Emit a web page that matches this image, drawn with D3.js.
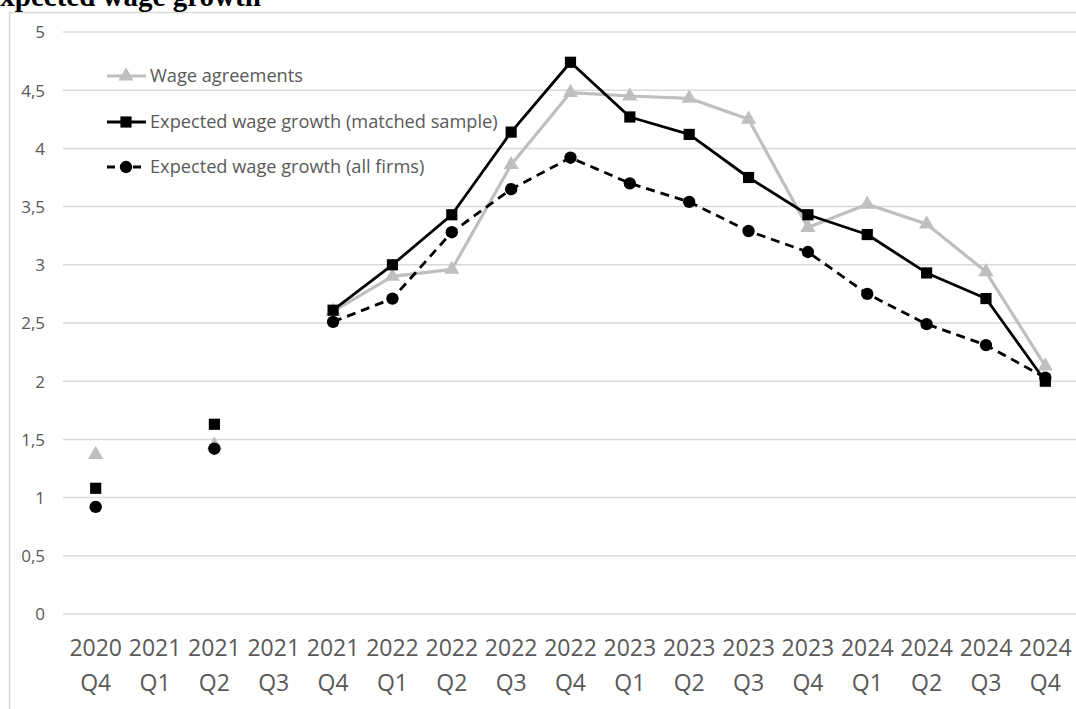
<!DOCTYPE html>
<html>
<head>
<meta charset="utf-8">
<script src="https://cdn.jsdelivr.net/npm/d3@7"></script>
<style>
  html, body { margin: 0; padding: 0; background: #fff; overflow: hidden; }
  svg { display: block; }
</style>
</head>
<body>
<svg id="chart" width="1076" height="709"></svg>
<script>
const years = ["2020","2021","2021","2021","2021","2022","2022","2022","2022","2023","2023","2023","2023","2024","2024","2024","2024"];
const quarters = ["Q4","Q1","Q2","Q3","Q4","Q1","Q2","Q3","Q4","Q1","Q2","Q3","Q4","Q1","Q2","Q3","Q4"];
const wageAgreements = [1.37, null, 1.45, null, 2.60, 2.90, 2.96, 3.86, 4.48, 4.45, 4.43, 4.25, 3.32, 3.52, 3.35, 2.94, 2.13];
const matchedSample  = [1.08, null, 1.63, null, 2.61, 3.00, 3.43, 4.14, 4.74, 4.27, 4.12, 3.75, 3.43, 3.26, 2.93, 2.71, 2.00];
const allFirms       = [0.92, null, 1.42, null, 2.51, 2.71, 3.28, 3.65, 3.92, 3.70, 3.54, 3.29, 3.11, 2.75, 2.49, 2.31, 2.03];
const yTicks = [0, 0.5, 1, 1.5, 2, 2.5, 3, 3.5, 4, 4.5, 5];
const seriesNames = ["Wage agreements", "Expected wage growth (matched sample)", "Expected wage growth (all firms)"];
const title = "Expected wage growth";

const svg = d3.select("#chart");
const FONT = "'Open Sans', sans-serif";
const TXT = "#595959";
const GRID = "#d9d9d9";
const GRAY = "#bfbfbf";

const idx = d3.range(years.length);
const x = d3.scaleBand().domain(idx).range([66, 1075]);
const cx = i => x(i) + x.bandwidth() / 2;
const y = d3.scaleLinear().domain([0, 5]).range([614, 32]);

// outer frame
svg.append("rect").attr("x", 9.5).attr("y", 12.5).attr("width", 1200).attr("height", 800)
  .attr("fill", "none").attr("stroke", GRID).attr("stroke-width", 1.5);

// title (cut off at the top-left edge, as in the reference)
svg.append("text").attr("x", -19).attr("y", 6)
  .attr("font-family", "'Liberation Serif', 'Times New Roman', serif")
  .attr("font-weight", "bold").attr("font-size", 29).attr("fill", "#000").text(title);

// y axis labels
const yAxis = d3.axisLeft(y).tickValues(yTicks).tickSize(0).tickPadding(0)
  .tickFormat(d => String(d).replace(".", ","));
const gy = svg.append("g").attr("transform", "translate(45,0)").call(yAxis);
gy.select(".domain").remove();
gy.selectAll("text").attr("font-family", FONT).attr("font-size", 17).attr("fill", TXT).attr("dy", "0.35em");

// gridlines
svg.append("g").selectAll("line").data(yTicks).join("line")
  .attr("x1", 63).attr("x2", 1076).attr("y1", d => y(d)).attr("y2", d => y(d))
  .attr("stroke", GRID).attr("stroke-width", 1.5);

// x axis labels
const xAxis = d3.axisBottom(x).tickSize(0).tickFormat(() => "");
const gx = svg.append("g").attr("transform", "translate(0,614)").call(xAxis);
gx.select(".domain").remove();
gx.selectAll(".tick").each(function(i) {
  const t = d3.select(this).append("text").attr("font-family", FONT).attr("font-size", 23)
    .attr("fill", TXT).attr("text-anchor", "middle");
  t.append("tspan").attr("x", 0).attr("y", 42).text(years[i]);
  t.append("tspan").attr("x", 0).attr("y", 77).text(quarters[i]);
});

const line = d3.line().defined(d => d.v !== null).x(d => cx(d.i)).y(d => y(d.v));
const toPts = arr => arr.map((v, i) => ({ i, v }));

const tri = d3.symbol().type(d3.symbolTriangle).size(100);
const sq = d3.symbol().type(d3.symbolSquare).size(125);
const circ = d3.symbol().type(d3.symbolCircle).size(120);

const series = [
  { data: wageAgreements, color: GRAY, width: 3.2, dash: null, sym: tri },
  { data: matchedSample, color: "#000", width: 2.8, dash: null, sym: sq },
  { data: allFirms, color: "#000", width: 2.8, dash: "9,6", sym: circ }
];

series.forEach(s => {
  const pts = toPts(s.data);
  svg.append("path").datum(pts).attr("d", line).attr("fill", "none")
    .attr("stroke", s.color).attr("stroke-width", s.width)
    .attr("stroke-dasharray", s.dash).attr("stroke-linejoin", "round");
  svg.append("g").selectAll("path").data(pts.filter(d => d.v !== null)).join("path")
    .attr("d", s.sym).attr("transform", d => `translate(${cx(d.i)},${y(d.v)})`)
    .attr("fill", s.color);
});

// legend
const legY = [76, 122, 167];
series.forEach((s, k) => {
  const g = svg.append("g").attr("transform", `translate(0,${legY[k]})`);
  g.append("line").attr("x1", 107).attr("x2", 146).attr("y1", 0).attr("y2", 0)
    .attr("stroke", s.color).attr("stroke-width", s.width).attr("stroke-dasharray", s.dash ? "8,5" : null);
  g.append("path").attr("d", s.sym).attr("transform", "translate(126,0)").attr("fill", s.color);
  g.append("text").attr("x", 150).attr("y", 0).attr("dy", "0.35em").attr("font-family", FONT)
    .attr("font-size", 18.2).attr("fill", TXT).text(seriesNames[k]);
});
</script>
</body>
</html>
